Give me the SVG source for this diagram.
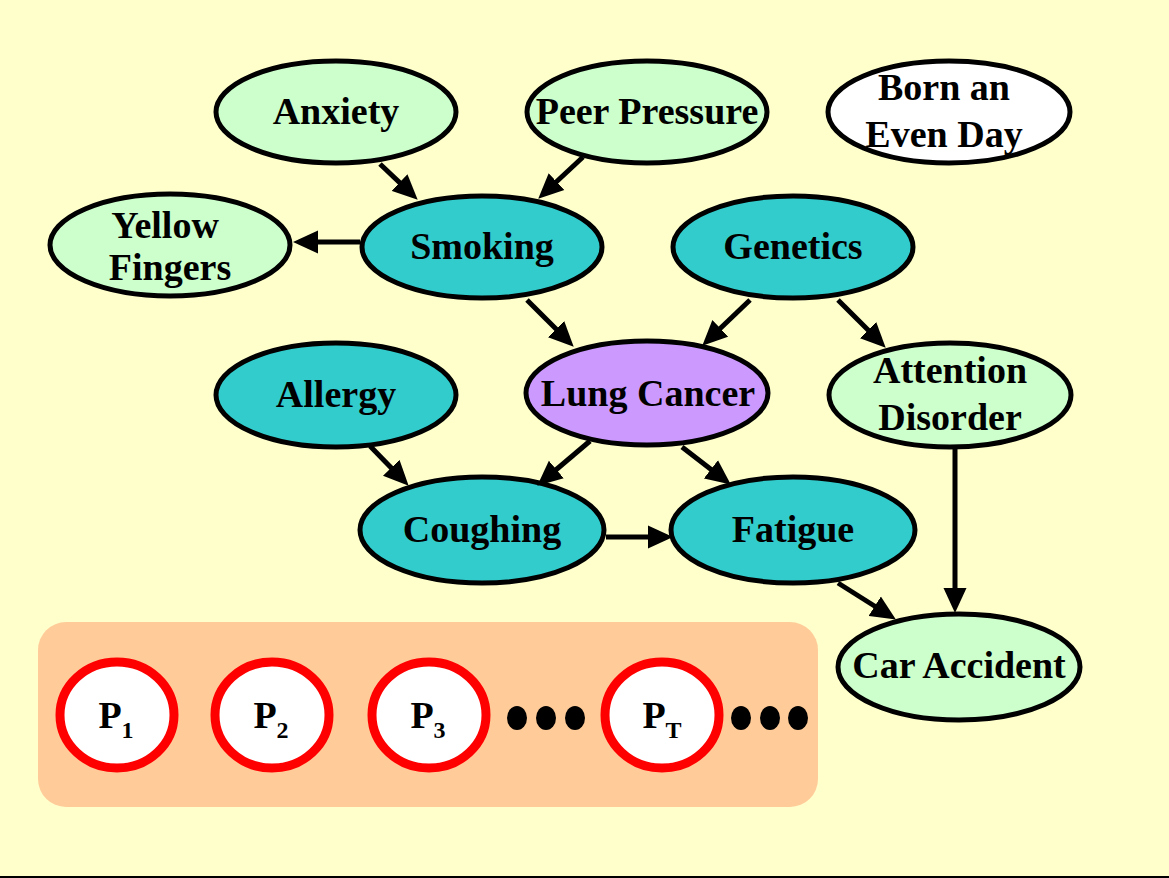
<svg xmlns="http://www.w3.org/2000/svg" width="1169" height="878" viewBox="0 0 1169 878">
<defs>
<style>
.bg{fill:#FFFFCC}
.node{stroke:#000;stroke-width:5}
.lg{fill:#CCFFCC}
.tl{fill:#33CCCC}
.pu{fill:#CC99FF}
.wh{fill:#FFFFFF}
.lbl{font-family:"Liberation Serif","Times New Roman",serif;font-weight:bold;font-size:38px;fill:#000;text-anchor:middle}
.edge{stroke:#000;stroke-width:5;fill:none;marker-end:url(#ah)}
.p{fill:#FFFFFF;stroke:#FF0000;stroke-width:9}
.dot{fill:#000}
</style>
<marker id="ah" markerUnits="userSpaceOnUse" markerWidth="26" markerHeight="24" refX="10" refY="12" orient="auto" viewBox="0 0 26 24">
<path d="M0,0.5 L25,12 L0,23.5 z" fill="#000"/>
</marker>
</defs>
<rect class="bg" x="0" y="0" width="1169" height="878"/>
<rect x="0" y="876" width="1169" height="2" fill="#000"/>

<g id="anxiety"><ellipse class="node lg" cx="336" cy="112" rx="120" ry="51"/><text class="lbl" x="336" y="124">Anxiety</text></g>
<g id="peer-pressure"><ellipse class="node lg" cx="647" cy="112" rx="120" ry="51"/><text class="lbl" x="647" y="124">Peer Pressure</text></g>
<g id="born-even-day"><ellipse class="node wh" cx="949" cy="112" rx="121" ry="51"/><text class="lbl" x="944" y="100">Born an</text><text class="lbl" x="944" y="147">Even Day</text></g>
<g id="yellow-fingers"><ellipse class="node lg" cx="170" cy="245" rx="120" ry="51"/><text class="lbl" x="165" y="238">Yellow</text><text class="lbl" x="170" y="280">Fingers</text></g>
<g id="smoking"><ellipse class="node tl" cx="482" cy="247" rx="120" ry="51"/><text class="lbl" x="482" y="259">Smoking</text></g>
<g id="genetics"><ellipse class="node tl" cx="793" cy="247" rx="120" ry="51"/><text class="lbl" x="793" y="259">Genetics</text></g>
<g id="lung-cancer"><ellipse class="node pu" cx="647" cy="393" rx="121" ry="52"/><text class="lbl" x="648" y="406">Lung Cancer</text></g>
<g id="allergy"><ellipse class="node tl" cx="336" cy="395" rx="120" ry="52"/><text class="lbl" x="336" y="407">Allergy</text></g>
<g id="attention-disorder"><ellipse class="node lg" cx="950" cy="395" rx="121" ry="52"/><text class="lbl" x="950" y="383">Attention</text><text class="lbl" x="950" y="430">Disorder</text></g>
<g id="coughing"><ellipse class="node tl" cx="482" cy="530" rx="122" ry="53"/><text class="lbl" x="482" y="542">Coughing</text></g>
<g id="fatigue"><ellipse class="node tl" cx="793" cy="530" rx="122" ry="53"/><text class="lbl" x="793" y="542">Fatigue</text></g>
<g id="car-accident"><ellipse class="node lg" cx="959" cy="667" rx="121" ry="53"/><text class="lbl" x="959" y="678">Car Accident</text></g>

<g id="connectors">
<line class="edge" x1="380" y1="164" x2="406.8" y2="189.4"/>
<line class="edge" x1="583" y1="157" x2="549.2" y2="188.5"/>
<line class="edge" x1="360" y1="242" x2="308" y2="242"/>
<line class="edge" x1="527" y1="300" x2="563.1" y2="336.1"/>
<line class="edge" x1="750" y1="300" x2="713.1" y2="335.3"/>
<line class="edge" x1="838" y1="300" x2="875.1" y2="337.1"/>
<line class="edge" x1="590" y1="441" x2="548.7" y2="476"/>
<line class="edge" x1="682" y1="447" x2="718.9" y2="475.4"/>
<line class="edge" x1="606" y1="537" x2="658" y2="537"/>
<line class="edge" x1="370" y1="446" x2="398.2" y2="475"/>
<line class="edge" x1="838" y1="583" x2="883.2" y2="611.5"/>
<line class="edge" x1="955" y1="448" x2="955" y2="598"/>
</g>

<g id="particles">
<rect x="38" y="622" width="780" height="185" rx="28" ry="28" fill="#FFCC99"/>
<g id="p1"><ellipse class="p" cx="117" cy="715" rx="57" ry="53"/><text class="lbl" x="116" y="728">P<tspan font-size="24" dy="10">1</tspan></text></g>
<g id="p2"><ellipse class="p" cx="272" cy="715" rx="57" ry="53"/><text class="lbl" x="271" y="728">P<tspan font-size="24" dy="10">2</tspan></text></g>
<g id="p3"><ellipse class="p" cx="429" cy="715" rx="57" ry="53"/><text class="lbl" x="428" y="728">P<tspan font-size="24" dy="10">3</tspan></text></g>
<g id="pT"><ellipse class="p" cx="662" cy="715" rx="57" ry="53"/><text class="lbl" x="662" y="728">P<tspan font-size="24" dy="10">T</tspan></text></g>
<ellipse class="dot" cx="517" cy="718" rx="10" ry="12"/>
<ellipse class="dot" cx="546" cy="718" rx="10" ry="12"/>
<ellipse class="dot" cx="575" cy="718" rx="10" ry="12"/>
<ellipse class="dot" cx="741" cy="718" rx="10" ry="12"/>
<ellipse class="dot" cx="770" cy="718" rx="10" ry="12"/>
<ellipse class="dot" cx="798" cy="718" rx="10" ry="12"/>
</g>
</svg>
